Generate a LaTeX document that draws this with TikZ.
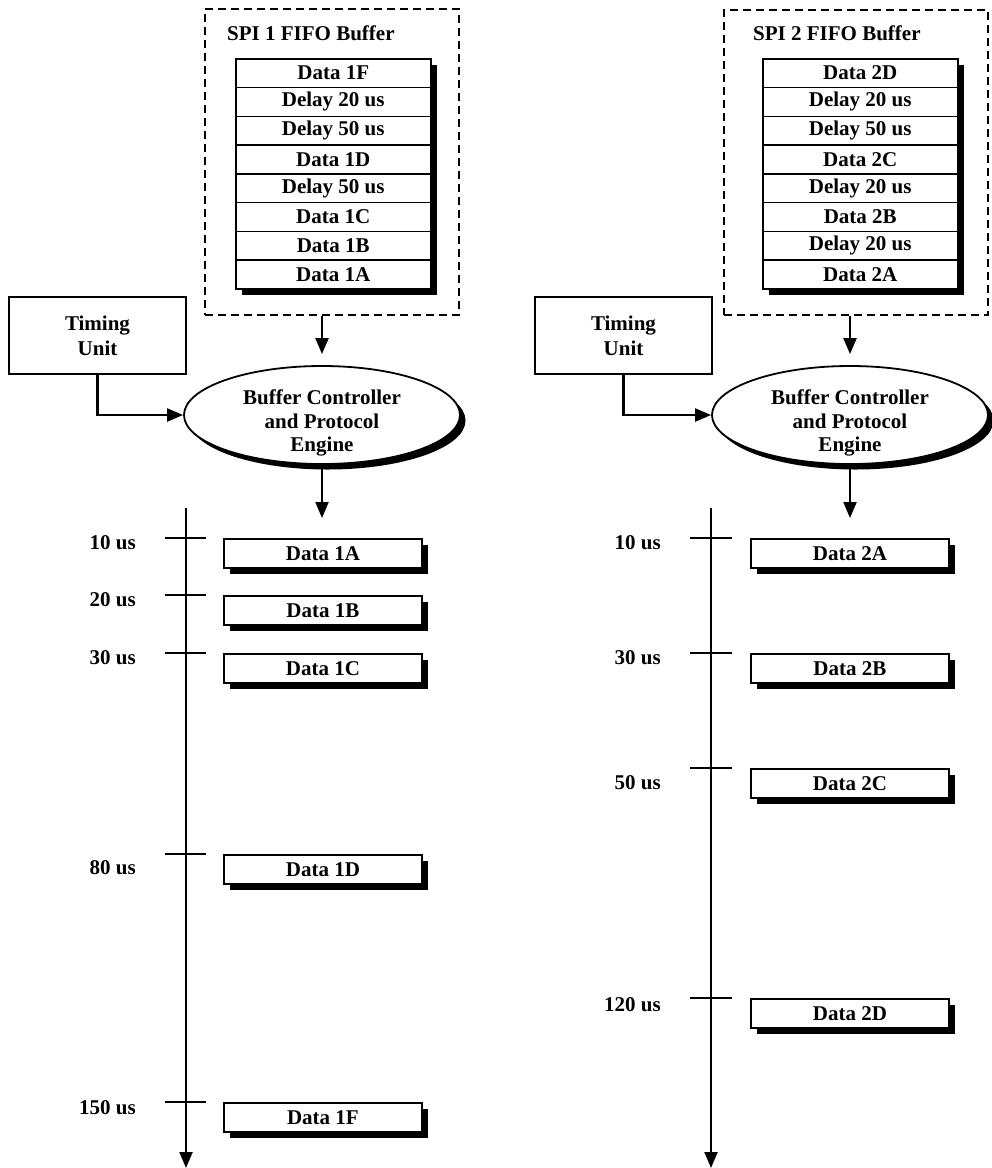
\documentclass[tikz,border=0pt]{standalone}
\usepackage{fontspec}
\setmainfont{Liberation Serif}
\usetikzlibrary{arrows.meta,shadows,shapes.geometric}
\begin{document}
\begin{tikzpicture}[x=1pt,y=-1pt,
  every node/.style={font=\fontsize{21}{24}\selectfont\bfseries, inner sep=0pt},
  shad/.style={drop shadow={shadow xshift=6.5pt,shadow yshift=-6.5pt,opacity=1,fill=black}},
  cell/.style={draw,line width=1.5pt,fill=white,minimum width=195pt,minimum height=28.75pt,anchor=north west,shad},
  fifo/.style={draw,dash pattern=on 8pt off 5pt,line width=1.9pt},
  timer/.style={draw,line width=1.8pt,minimum width=177pt,minimum height=77pt,align=center,font=\fontsize{21}{25}\selectfont\bfseries},
  engine/.style={ellipse,draw,line width=1.8pt,fill=white,minimum width=276pt,minimum height=98pt,align=center,
     inner ysep=-14pt,
     font=\fontsize{21}{23.5}\selectfont\bfseries,
     drop shadow={shadow xshift=5.5pt,shadow yshift=-5.5pt,opacity=1,fill=black}},
  slot/.style={draw,line width=1.8pt,fill=white,minimum width=198pt,minimum height=29pt,anchor=north west,shad},
  arr/.style={line width=2.2pt,-{Triangle[length=16pt,width=13pt]}},
  tickline/.style={line width=2.2pt},
  tlab/.style={anchor=east}
]
\useasboundingbox (0,0) rectangle (992,1168);

% ---------------- left side ----------------
\node[fifo, minimum width=254pt, minimum height=306pt] (buf1) at (332,162) {};
\node[anchor=west] (title1) at (227,33) {SPI 1 FIFO Buffer};
\foreach \t [count=\i from 0] in {Data 1F,Delay 20 us,Delay 50 us,Data 1D,Delay 50 us,Data 1C,Data 1B,Data 1A}
  \node[cell] (a\i) at (235,{58+\i*28.75}) {\t};

\node[timer] (tim1) at (97.5,335.5) {Timing\\Unit};
\node[engine] (ell1) at (322,415) {\rule{0pt}{31pt}Buffer Controller\\and Protocol\\Engine};
\coordinate (out1) at (322,518);
\draw[arr, shorten >=11pt] (buf1.south -| ell1.north) -- (ell1.north);
\draw[arr] (tim1.south) |- (ell1.west);
\draw[arr] (ell1.south) -- (out1);

\coordinate (tl1a) at (186,508);
\coordinate (tl1b) at (186,1168);
\draw[arr] (tl1a) -- (tl1b);

\foreach \y/\lab/\dy/\txt/\nm in {538/10 us/5/Data 1A/p1,595/20 us/5/Data 1B/p2,653/30 us/5/Data 1C/p3,854/80 us/14/Data 1D/p4,1102/150 us/6/Data 1F/p5}{
  \draw[tickline] (165,\y) -- (206,\y);
  \node[tlab] (l\nm) at (136,{\y+\dy}) {\lab};
  \node[slot] (\nm) at (223,\y) {\txt};
}

% ---------------- right side ----------------
\node[fifo, minimum width=264pt, minimum height=305pt] (buf2) at (856,162.5) {};
\node[anchor=west] (title2) at (753,33) {SPI 2 FIFO Buffer};
\foreach \t [count=\i from 0] in {Data 2D,Delay 20 us,Delay 50 us,Data 2C,Delay 20 us,Data 2B,Delay 20 us,Data 2A}
  \node[cell] (b\i) at (762,{58+\i*28.75}) {\t};

\node[timer] (tim2) at (623.5,335.5) {Timing\\Unit};
\node[engine] (ell2) at (850,415) {\rule{0pt}{31pt}Buffer Controller\\and Protocol\\Engine};
\coordinate (out2) at (850,518);
\draw[arr, shorten >=11pt] (buf2.south -| ell2.north) -- (ell2.north);
\draw[arr] (tim2.south) |- (ell2.west);
\draw[arr] (ell2.south) -- (out2);

\coordinate (tl2a) at (711,508);
\coordinate (tl2b) at (711,1168);
\draw[arr] (tl2a) -- (tl2b);

\foreach \y/\lab/\dy/\txt/\nm in {538/10 us/5/Data 2A/q1,653/30 us/5/Data 2B/q2,768/50 us/15/Data 2C/q3,998/120 us/7/Data 2D/q4}{
  \draw[tickline] (690,\y) -- (732,\y);
  \node[tlab] (l\nm) at (661,{\y+\dy}) {\lab};
  \node[slot] (\nm) at (750,\y) {\txt};
}
\end{tikzpicture}
\end{document}
